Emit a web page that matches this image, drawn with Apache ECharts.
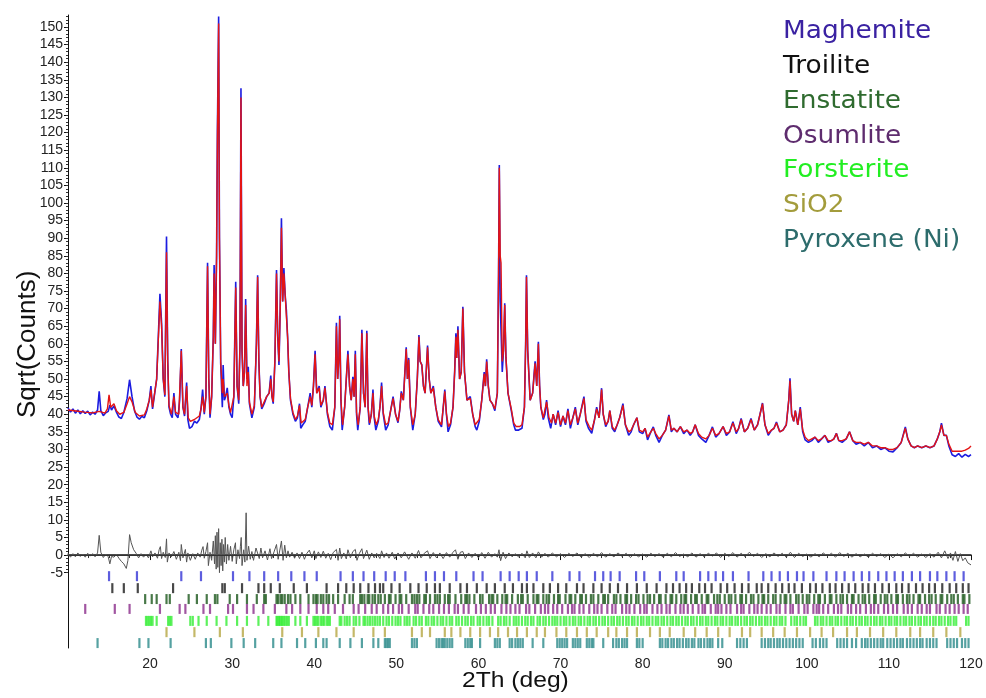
<!DOCTYPE html>
<html>
<head>
<meta charset="utf-8">
<script src="https://cdn.jsdelivr.net/npm/echarts@6/dist/echarts.min.js"></script>
<style>
  html, body { margin: 0; padding: 0; background: #fff; }
  #chart { width: 986px; height: 698px; }
</style>
</head>
<body>
<div id="chart"></div>
<script>
// observed pattern (blue), [2theta, sqrt(counts)]
const observed = [
  [10.0,41.8],[10.3,40.6],[10.6,41.5],[10.9,40.3],[11.2,41.2],[11.5,40.1],[11.8,41.0],[12.1,40.2],[12.4,40.9],[12.7,39.8],
  [13.0,40.6],[13.3,40.0],[13.6,41.2],[13.8,46.5],[14.0,41.0],[14.3,39.6],[14.6,40.4],[14.9,40.8],[15.1,42.6],[15.3,41.2],
  [15.6,42.4],[15.9,40.6],[16.2,39.2],[16.5,38.8],[16.8,40.5],[17.2,44.5],[17.5,49.8],[17.8,45.0],[18.1,41.0],[18.4,39.2],
  [18.7,38.6],[19.0,39.4],[19.3,39.0],[19.6,41.0],[19.9,44.0],[20.1,48.0],[20.3,41.5],[20.5,42.0],[20.8,50.0],[21.0,62.0],
  [21.2,74.2],[21.4,66.0],[21.6,50.0],[21.8,45.0],[22.0,90.5],[22.15,55.0],[22.3,42.0],[22.5,40.0],[22.7,39.0],[22.9,46.0],
  [23.1,40.0],[23.4,39.0],[23.6,44.0],[23.8,58.5],[24.0,42.0],[24.2,39.5],[24.45,49.0],[24.6,38.5],[24.8,36.0],[25.1,36.5],
  [25.4,38.0],[25.7,37.5],[26.0,38.5],[26.2,41.5],[26.4,47.0],[26.6,40.0],[26.8,45.0],[27.0,83.0],[27.15,50.0],[27.3,39.0],
  [27.5,45.0],[27.7,62.0],[27.8,82.4],[27.95,60.0],[28.1,85.0],[28.2,120.5],[28.35,153.0],[28.45,90.0],[28.6,54.5],[28.8,42.0],
  [28.9,54.0],[29.05,44.0],[29.2,45.0],[29.4,47.5],[29.6,42.0],[29.8,40.0],[30.0,39.0],[30.2,45.0],[30.43,77.6],[30.6,48.0],
  [30.8,43.0],[30.95,60.0],[31.07,132.6],[31.2,58.0],[31.35,48.0],[31.5,52.0],[31.64,72.7],[31.8,50.0],[31.96,53.5],[32.1,43.0],
  [32.4,39.0],[32.7,42.0],[32.95,60.0],[33.1,79.5],[33.25,55.0],[33.4,45.0],[33.6,41.5],[33.9,43.0],[34.2,45.0],[34.5,46.0],
  [34.7,51.0],[34.85,45.0],[35.0,43.0],[35.2,55.0],[35.4,81.0],[35.55,62.0],[35.7,54.0],[35.85,70.0],[36.0,95.7],[36.15,72.0],
  [36.3,81.5],[36.45,74.0],[36.6,69.6],[36.75,62.0],[36.9,52.0],[37.1,44.0],[37.4,40.0],[37.7,38.0],[37.95,39.0],[38.2,43.0],
  [38.35,36.0],[38.6,37.0],[38.9,38.0],[39.2,42.0],[39.5,46.0],[39.7,42.0],[39.9,48.0],[40.1,58.0],[40.3,46.0],[40.6,48.0],
  [40.8,42.0],[41.1,44.0],[41.3,48.0],[41.6,40.0],[41.9,36.5],[42.2,35.5],[42.5,42.0],[42.7,66.0],[42.85,50.0],[43.0,56.0],
  [43.1,68.0],[43.25,44.0],[43.4,35.5],[43.7,42.0],[43.9,50.0],[44.1,58.0],[44.3,48.0],[44.5,44.0],[44.7,50.6],[44.85,45.0],
  [45.0,58.0],[45.15,40.0],[45.3,35.5],[45.6,42.0],[45.8,64.0],[46.0,46.0],[46.2,42.0],[46.4,63.7],[46.55,42.0],[46.7,37.0],
  [46.95,40.0],[47.15,47.0],[47.3,39.0],[47.5,35.5],[47.8,38.0],[48.0,42.0],[48.2,49.0],[48.4,40.0],[48.7,35.5],[49.0,37.0],
  [49.3,41.0],[49.6,45.0],[49.9,40.0],[50.2,37.6],[50.4,41.0],[50.6,46.5],[50.85,44.0],[51.2,59.0],[51.35,50.0],[51.5,56.0],
  [51.7,42.0],[52.0,35.5],[52.3,40.0],[52.55,50.0],[52.75,62.5],[52.9,55.0],[53.1,54.0],[53.3,48.0],[53.5,46.0],[53.8,59.5],
  [54.0,50.0],[54.2,46.0],[54.5,48.0],[54.8,42.0],[55.1,38.0],[55.5,36.4],[55.9,47.0],[56.1,40.0],[56.3,35.0],[56.6,37.0],
  [56.9,42.0],[57.1,52.0],[57.25,63.0],[57.35,56.0],[57.5,65.0],[57.7,50.0],[57.9,52.0],[58.1,70.5],[58.3,52.0],[58.6,44.0],
  [59.0,45.0],[59.3,40.0],[59.6,36.5],[59.8,35.5],[60.1,38.0],[60.4,44.0],[60.7,52.0],[60.85,48.0],[61.0,55.6],[61.2,48.0],
  [61.4,44.0],[61.7,43.0],[62.0,41.0],[62.3,46.0],[62.45,80.0],[62.54,110.8],[62.65,72.0],[62.75,64.0],[62.9,52.0],[63.05,58.0],
  [63.2,71.5],[63.35,56.0],[63.6,46.0],[64.0,41.0],[64.3,37.0],[64.5,35.5],[64.9,35.5],[65.3,36.0],[65.6,42.0],[65.75,60.0],
  [65.85,79.5],[66.0,58.0],[66.3,44.0],[66.6,46.0],[66.9,55.0],[67.1,48.0],[67.3,60.6],[67.45,48.0],[67.6,42.0],[67.9,38.5],
  [68.1,40.0],[68.3,44.0],[68.5,39.0],[68.8,36.0],[69.1,40.0],[69.4,37.0],[69.7,41.0],[70.0,36.5],[70.3,39.5],[70.6,37.0],
  [70.9,41.5],[71.2,36.0],[71.5,39.0],[71.8,42.0],[72.1,37.0],[72.4,40.0],[72.85,45.0],[73.1,38.0],[73.4,36.0],[73.8,34.6],
  [74.1,38.0],[74.4,42.0],[74.7,39.0],[75.0,47.4],[75.2,40.0],[75.5,36.5],[75.8,38.0],[76.0,41.0],[76.3,36.0],[76.6,35.0],
  [76.9,37.0],[77.2,39.0],[77.6,43.0],[77.9,37.0],[78.3,34.0],[78.6,35.0],[78.9,37.0],[79.3,39.0],[79.6,35.0],[80.0,34.5],
  [80.3,36.0],[80.6,32.7],[81.0,35.0],[81.3,36.4],[81.6,34.0],[82.0,32.0],[82.4,34.0],[82.8,35.5],[83.2,39.8],[83.5,35.0],
  [83.8,36.0],[84.2,35.0],[84.6,36.5],[85.0,34.5],[85.4,35.5],[85.8,34.0],[86.1,35.0],[86.4,37.0],[86.8,34.0],[87.2,33.0],
  [87.7,32.0],[88.1,34.0],[88.5,36.4],[88.9,33.5],[89.3,34.5],[89.8,36.5],[90.2,34.0],[90.6,35.0],[91.0,37.9],[91.4,34.5],
  [91.7,36.0],[92.0,38.8],[92.4,35.0],[92.8,36.0],[93.2,38.8],[93.6,35.5],[94.0,37.0],[94.3,40.0],[94.6,43.2],[94.9,37.0],
  [95.3,34.0],[95.7,35.5],[96.0,36.0],[96.3,37.8],[96.7,35.0],[97.1,35.5],[97.5,37.0],[97.8,44.0],[97.95,50.2],[98.15,40.0],
  [98.4,38.0],[98.6,41.0],[98.9,37.0],[99.2,42.0],[99.5,35.0],[99.8,32.7],[100.2,32.0],[100.6,32.5],[101.0,33.5],[101.4,32.0],
  [101.8,33.0],[102.2,34.0],[102.6,32.0],[103.0,32.5],[103.3,33.0],[103.6,34.6],[103.9,32.5],[104.3,32.0],[104.8,33.0],[105.2,35.0],
  [105.6,32.5],[106.0,31.5],[106.5,32.0],[107.0,31.0],[107.5,32.0],[108.0,30.5],[108.5,31.0],[109.0,30.0],[109.5,30.5],[110.0,29.5],
  [110.5,29.3],[111.0,30.5],[111.5,32.0],[112.0,36.4],[112.3,33.0],[112.7,31.0],[113.1,30.5],[113.5,31.0],[114.0,30.5],[114.5,31.0],
  [115.0,30.5],[115.5,31.0],[115.9,33.0],[116.2,35.0],[116.4,37.5],[116.7,34.0],[117.0,34.0],[117.3,31.0],[117.7,28.5],[118.1,28.0],
  [118.5,28.8],[118.9,27.8],[119.3,28.6],[119.7,28.0],[120.0,28.5]
]

// calculated pattern (red)
const calculated = [
  [10.0,41.2],[11.0,40.9],[12.0,40.6],[13.0,40.4],[13.8,40.8],[14.5,40.3],[14.8,41.5],[15.0,45.5],[15.2,42.0],[15.6,43.0],
  [15.9,41.0],[16.3,40.0],[16.8,40.5],[17.2,43.0],[17.5,45.0],[17.8,43.5],[18.2,40.5],[18.7,39.5],[19.3,39.8],[19.6,41.5],
  [19.9,44.0],[20.1,47.0],[20.3,42.0],[20.5,42.5],[20.8,50.0],[21.0,61.0],[21.2,72.0],[21.4,65.0],[21.6,50.0],[21.8,45.5],
  [22.0,86.0],[22.15,55.0],[22.3,42.5],[22.6,40.0],[22.9,45.0],[23.1,40.5],[23.5,40.0],[23.8,58.0],[24.0,42.0],[24.2,40.0],
  [24.45,48.0],[24.65,39.0],[24.9,38.0],[25.4,38.5],[26.0,39.5],[26.2,41.5],[26.4,45.0],[26.6,40.5],[26.8,45.0],[27.0,82.0],
  [27.15,50.0],[27.3,40.0],[27.5,45.0],[27.7,62.0],[27.8,80.0],[27.95,60.0],[28.1,85.0],[28.2,118.0],[28.35,151.0],[28.45,90.0],
  [28.6,55.0],[28.8,46.0],[28.9,50.0],[29.05,45.0],[29.2,45.0],[29.4,46.0],[29.6,42.5],[29.8,40.5],[30.0,40.0],[30.2,45.0],
  [30.43,76.0],[30.6,48.0],[30.8,44.0],[30.95,60.0],[31.07,130.0],[31.2,58.0],[31.35,48.0],[31.5,52.0],[31.64,71.0],[31.8,48.0],
  [31.96,52.0],[32.1,43.5],[32.4,40.0],[32.7,42.5],[32.95,60.0],[33.1,79.0],[33.25,55.0],[33.4,45.0],[33.6,42.0],[33.9,43.5],
  [34.2,45.0],[34.5,46.0],[34.7,50.0],[34.85,45.0],[35.0,43.5],[35.2,55.0],[35.4,80.0],[35.55,62.0],[35.7,55.0],[35.85,70.0],
  [36.0,93.0],[36.15,72.0],[36.3,80.0],[36.45,74.0],[36.6,68.0],[36.75,62.0],[36.9,52.0],[37.1,44.5],[37.4,40.5],[37.7,38.5],
  [37.95,39.5],[38.2,42.5],[38.4,37.5],[38.9,38.5],[39.2,42.0],[39.5,45.0],[39.7,42.5],[39.9,48.0],[40.1,57.0],[40.3,46.0],
  [40.6,47.5],[40.8,42.5],[41.1,44.0],[41.3,47.5],[41.6,40.5],[41.9,37.5],[42.2,37.0],[42.5,42.0],[42.7,65.0],[42.85,50.0],
  [43.0,56.0],[43.1,67.0],[43.25,44.0],[43.45,37.0],[43.7,42.0],[43.9,50.0],[44.1,57.0],[44.3,48.0],[44.5,44.0],[44.7,50.0],
  [44.85,45.0],[45.0,57.0],[45.15,40.5],[45.35,37.0],[45.6,42.0],[45.8,63.0],[46.0,46.0],[46.2,42.0],[46.4,63.0],[46.55,42.0],
  [46.75,37.5],[46.95,40.0],[47.15,46.0],[47.3,39.5],[47.55,37.0],[47.8,38.5],[48.0,42.0],[48.2,48.0],[48.4,40.5],[48.7,37.0],
  [49.0,37.5],[49.3,41.0],[49.6,44.5],[49.9,40.0],[50.2,38.0],[50.4,41.0],[50.6,46.0],[50.85,44.0],[51.2,58.5],[51.35,50.0],
  [51.5,55.5],[51.7,42.0],[52.0,37.0],[52.3,40.0],[52.55,50.0],[52.75,62.0],[52.9,55.0],[53.1,54.0],[53.3,48.0],[53.5,46.0],
  [53.8,59.0],[54.0,50.0],[54.2,46.0],[54.5,47.5],[54.8,42.0],[55.1,38.5],[55.5,37.0],[55.9,46.5],[56.1,40.0],[56.35,36.5],
  [56.6,37.5],[56.9,42.0],[57.1,52.0],[57.25,62.0],[57.35,56.0],[57.5,64.0],[57.7,50.0],[57.9,52.0],[58.1,70.0],[58.3,52.0],
  [58.6,44.0],[59.0,44.5],[59.3,40.0],[59.6,37.0],[59.8,36.5],[60.1,38.5],[60.4,44.0],[60.7,51.5],[60.85,48.0],[61.0,55.0],
  [61.2,48.0],[61.4,44.0],[61.7,43.0],[62.0,41.5],[62.3,46.0],[62.45,80.0],[62.54,110.0],[62.65,85.0],[62.75,83.0],[62.9,55.0],
  [63.05,58.0],[63.2,71.0],[63.35,56.0],[63.6,46.0],[64.0,41.5],[64.3,37.5],[64.6,36.5],[65.0,36.5],[65.3,37.0],[65.6,42.0],
  [65.75,60.0],[65.85,79.0],[66.0,58.0],[66.3,44.0],[66.6,46.0],[66.9,54.5],[67.1,48.0],[67.3,60.0],[67.45,48.0],[67.6,42.0],
  [67.9,39.0],[68.3,43.5],[68.6,39.0],[68.9,37.5],[69.1,40.0],[69.4,37.5],[69.7,40.5],[70.0,37.0],[70.3,39.5],[70.6,37.5],
  [70.9,41.0],[71.2,37.0],[71.5,39.0],[71.8,41.5],[72.1,37.5],[72.4,40.0],[72.85,44.5],[73.1,38.5],[73.5,36.5],[73.8,35.5],
  [74.1,38.0],[74.4,41.5],[74.7,39.0],[75.0,47.0],[75.2,40.0],[75.5,37.0],[75.8,38.0],[76.0,41.0],[76.3,36.5],[76.6,35.5],
  [76.9,37.0],[77.2,39.0],[77.6,42.5],[77.9,37.0],[78.3,35.0],[78.6,35.5],[78.9,37.0],[79.3,39.0],[79.6,35.5],[80.0,35.0],
  [80.3,36.0],[80.6,33.5],[81.0,35.0],[81.3,36.0],[81.6,34.5],[82.0,33.0],[82.4,34.0],[82.8,35.5],[83.2,39.5],[83.5,35.5],
  [83.8,36.0],[84.2,35.0],[84.6,36.5],[85.0,35.0],[85.4,35.5],[85.8,34.5],[86.1,35.0],[86.4,37.0],[86.8,34.5],[87.2,33.5],
  [87.7,33.0],[88.1,34.0],[88.5,36.0],[88.9,34.0],[89.3,34.5],[89.8,36.5],[90.2,34.5],[90.6,35.0],[91.0,37.5],[91.4,35.0],
  [91.7,36.0],[92.0,38.5],[92.4,35.0],[92.8,36.0],[93.2,38.5],[93.6,35.5],[94.0,37.0],[94.3,40.0],[94.6,43.0],[94.9,37.0],
  [95.3,34.5],[95.7,35.5],[96.0,36.0],[96.3,37.5],[96.7,35.0],[97.1,35.5],[97.5,37.0],[97.8,44.0],[97.95,49.5],[98.15,40.0],
  [98.4,38.0],[98.6,41.0],[98.9,37.0],[99.2,41.5],[99.5,35.5],[99.8,33.5],[100.2,32.5],[100.6,33.0],[101.0,33.5],[101.4,32.5],
  [101.8,33.0],[102.2,34.0],[102.6,32.5],[103.0,32.5],[103.3,33.0],[103.6,34.5],[103.9,32.5],[104.3,32.5],[104.8,33.0],[105.2,35.0],
  [105.6,32.5],[106.0,32.0],[106.5,32.0],[107.0,31.5],[107.5,32.0],[108.0,31.0],[108.5,31.0],[109.0,30.5],[109.5,30.5],[110.0,30.0],
  [110.5,30.0],[111.0,30.5],[111.5,32.0],[112.0,36.0],[112.3,33.0],[112.7,31.0],[113.1,30.5],[113.5,31.0],[114.0,30.5],[114.5,31.0],
  [115.0,30.5],[115.5,31.0],[115.9,33.0],[116.2,35.0],[116.4,37.0],[116.7,34.0],[117.0,34.0],[117.3,31.5],[117.7,29.5],[118.1,29.5],
  [118.5,29.5],[118.9,29.5],[119.3,29.8],[119.7,30.3],[120.0,31.0]
]

// difference curve (grey), around 0
const difference = [
  [10.0,0.5],[10.3,-0.6],[10.6,0.4],[10.9,-0.5],[11.2,0.6],[11.5,-0.4],[11.8,0.3],[12.1,-0.6],[12.4,0.5],[12.7,-0.3],
  [13.0,0.4],[13.3,-0.5],[13.6,0.6],[13.8,5.6],[14.0,0.8],[14.3,-0.7],[14.6,0.3],[14.9,-0.5],[15.1,-2.5],[15.3,-0.4],
  [15.6,-0.6],[15.9,0.2],[16.2,-0.9],[16.5,-1.8],[16.8,-2.5],[17.1,-3.8],[17.3,-1.5],[17.5,5.8],[17.7,3.5],[18.0,1.5],
  [18.3,0.5],[18.6,-0.8],[18.9,0.4],[19.2,-0.6],[19.5,0.3],[19.8,-0.8],[20.1,1.2],[20.3,-0.5],[20.6,0.6],[20.9,-0.9],
  [21.1,1.5],[21.25,2.4],[21.4,-1.0],[21.6,0.8],[21.85,-0.7],[22.0,4.6],[22.1,-2.0],[22.3,0.6],[22.6,-0.5],[22.9,1.0],
  [23.2,-1.2],[23.5,0.8],[23.7,-1.6],[23.8,3.0],[24.0,-0.8],[24.3,1.6],[24.45,-2.0],[24.6,0.6],[24.9,-1.5],[25.2,0.4],
  [25.5,-1.2],[25.8,0.6],[26.1,-0.6],[26.3,1.4],[26.45,2.4],[26.6,-0.9],[26.8,1.0],[27.0,3.5],[27.1,-3.0],[27.3,0.8],
  [27.5,-1.5],[27.7,4.0],[27.85,-2.5],[27.95,5.5],[28.05,-4.0],[28.15,6.5],[28.25,-3.5],[28.35,7.5],[28.45,-5.0],[28.55,3.5],
  [28.65,-3.0],[28.75,4.5],[28.85,-4.5],[28.95,3.0],[29.05,-2.0],[29.15,5.0],[29.3,-2.5],[29.45,3.0],[29.6,-1.5],[29.8,2.5],
  [30.0,-1.8],[30.2,1.5],[30.4,3.5],[30.5,-2.5],[30.7,1.5],[30.9,-1.0],[31.0,2.5],[31.1,5.0],[31.2,-3.0],[31.4,1.5],
  [31.55,-2.0],[31.7,12.0],[31.8,-1.5],[32.0,2.5],[32.2,-1.2],[32.4,1.0],[32.6,-1.5],[32.9,2.0],[33.1,1.5],[33.3,-1.0],
  [33.5,2.0],[33.7,-0.8],[34.0,1.2],[34.3,-1.4],[34.6,1.8],[34.8,-1.0],[35.1,0.9],[35.4,3.0],[35.6,-1.2],[35.85,2.0],
  [36.0,4.0],[36.2,-1.5],[36.4,2.8],[36.6,-0.8],[36.8,1.2],[37.0,-0.6],[37.3,0.8],[37.6,-0.9],[37.9,0.6],[38.2,-1.0],
  [38.5,0.8],[38.8,-1.2],[39.1,0.5],[39.4,1.4],[39.7,-0.8],[40.0,1.2],[40.2,-1.0],[40.5,0.9],[40.8,-0.7],[41.1,1.1],
  [41.4,-0.9],[41.7,0.5],[42.0,-1.3],[42.3,0.7],[42.7,1.6],[42.9,-1.5],[43.1,2.0],[43.3,-1.0],[43.6,0.6],[43.9,-1.1],
  [44.1,1.5],[44.4,-0.8],[44.7,1.0],[45.0,1.6],[45.2,-1.5],[45.5,0.5],[45.8,1.8],[46.0,-1.0],[46.4,1.4],[46.7,-1.2],
  [47.0,0.6],[47.3,-0.8],[47.6,0.5],[48.0,-1.0],[48.2,1.2],[48.5,-0.7],[48.8,0.6],[49.1,-0.9],[49.5,0.8],[49.8,-1.1],
  [50.2,0.6],[50.6,-0.8],[51.0,0.9],[51.2,1.4],[51.5,-1.2],[51.9,0.6],[52.3,-0.9],[52.7,1.3],[53.0,-0.8],[53.4,0.5],
  [53.8,1.2],[54.1,-1.0],[54.5,0.7],[54.9,-0.8],[55.3,0.6],[55.7,-1.0],[56.1,0.7],[56.5,-0.6],[56.9,0.8],[57.2,1.5],
  [57.5,-1.2],[57.8,0.8],[58.1,1.0],[58.4,-1.0],[58.8,0.6],[59.2,-0.7],[59.6,0.5],[60.0,-0.8],[60.4,0.7],[60.8,-0.9],
  [61.2,0.8],[61.6,-0.6],[62.0,0.4],[62.3,-0.6],[62.5,1.5],[62.7,-1.6],[63.0,0.8],[63.3,-1.0],[63.7,0.6],[64.1,-0.5],
  [64.5,0.4],[64.9,-0.6],[65.3,0.5],[65.7,-0.8],[65.9,1.2],[66.2,-0.7],[66.6,0.6],[67.0,-0.8],[67.3,0.9],[67.7,-0.6],
  [68.1,0.5],[68.5,-0.6],[69.0,0.6],[69.5,-0.5],[70.0,0.4],[70.5,-0.7],[71.0,0.5],[71.5,-0.4],[72.0,0.6],[72.5,-0.6],
  [73.0,0.4],[73.5,-0.7],[74.0,0.5],[74.5,-0.5],[75.0,0.7],[75.5,-0.6],[76.0,0.4],[76.5,-0.5],[77.0,0.6],[77.5,-0.4],
  [78.0,0.5],[78.5,-0.7],[79.0,0.4],[79.5,-0.5],[80.0,0.3],[80.5,-0.6],[81.0,0.5],[81.5,-0.4],[82.0,0.4],[82.5,-0.6],
  [83.0,0.5],[83.5,-0.5],[84.0,0.7],[84.5,-0.4],[85.0,0.3],[85.5,-0.5],[86.0,0.6],[86.5,-0.6],[87.0,0.4],[87.5,-0.5],
  [88.0,0.5],[88.5,-0.3],[89.0,0.6],[89.5,-0.7],[90.0,0.5],[90.5,-0.4],[91.0,0.7],[91.5,-0.6],[92.0,0.5],[92.5,-0.5],
  [93.0,0.8],[93.5,-0.4],[94.0,0.5],[94.5,-0.7],[95.0,0.4],[95.5,-0.5],[96.0,0.6],[96.5,-0.4],[97.0,0.5],[97.5,-0.6],
  [98.0,0.8],[98.5,-0.7],[99.0,0.5],[99.5,-0.4],[100.0,0.3],[100.5,-0.6],[101.0,0.4],[101.5,-0.5],[102.0,0.6],[102.5,-0.3],
  [103.0,0.5],[103.5,-0.6],[104.0,0.7],[104.5,-0.4],[105.0,0.5],[105.5,-0.6],[106.0,0.4],[106.5,-0.5],[107.0,0.3],[107.5,-0.6],
  [108.0,0.5],[108.5,-0.4],[109.0,0.4],[109.5,-0.7],[110.0,0.3],[110.5,-0.8],[111.0,0.4],[111.5,-0.5],[112.0,0.6],[112.5,-0.4],
  [113.0,0.5],[113.5,-0.6],[114.0,0.3],[114.5,-0.7],[115.0,0.4],[115.5,-0.6],[116.0,0.8],[116.4,-0.8],[116.8,1.2],[117.2,-1.0],
  [117.5,0.6],[117.8,-1.5],[118.1,1.0],[118.4,-1.8],[118.7,0.4],[119.0,-1.6],[119.3,-0.8],[119.6,-2.2],[120.0,-2.8]
]

// reflection positions (2theta) for each phase
const maghemiteTicks = [15.0,18.4,23.8,26.2,30.1,32.1,33.9,35.6,37.2,38.8,40.3,43.2,44.7,46.0,47.3,48.7,49.8,51.1,53.6,54.7,
  55.8,57.3,59.4,60.5,62.7,63.8,64.9,65.9,67.1,69.0,71.1,72.3,74.2,75.2,76.1,77.2,79.2,80.2,82.1,84.1,85.0,87.0,88.0,88.9,
  89.8,91.0,92.9,94.7,95.7,96.7,97.7,98.8,99.6,100.8,102.4,103.6,104.6,105.7,106.7,107.6,108.7,109.7,110.7,111.7,112.8,113.8,
  115.0,115.9,117.0,118.0,119.1]
const troiliteTicks = [15.4,16.8,18.5,22.8,28.8,29.1,31.2,33.2,33.9,34.7,35.8,37.5,39.1,41.5,42.9,43.9,44.8,45.6,46.6,47.4,
  48.0,48.4,49.4,50.4,51.7,52.7,53.7,54.7,55.3,56.5,57.8,58.6,59.8,61.0,62.0,63.2,64.2,65.3,65.9,66.7,67.9,68.7,69.7,70.7,
  72.0,72.8,74.0,75.0,76.0,77.0,78.1,79.3,80.5,81.7,82.9,83.7,84.5,85.3,86.0,86.9,87.6,88.4,89.5,90.3,91.2,92.1,92.9,93.9,
  94.5,95.3,96.2,97.0,97.8,98.5,99.4,100.4,101.1,101.9,102.8,103.5,104.3,105.1,105.9,106.8,107.5,108.3,109.2,110.0,110.9,
  111.6,112.4,113.3,114.1,114.9,115.6,116.5,117.4,118.2,119.0,119.7]
const enstatiteTicks = [19.4,20.2,20.8,22.0,22.4,24.7,25.7,26.9,27.9,28.2,29.7,30.6,31.8,33.0,33.9,34.1,35.4,35.6,35.9,36.1,
  36.4,36.8,37.1,37.7,38.3,39.3,39.9,40.2,40.4,40.8,41.1,41.5,41.8,42.3,42.9,43.7,44.3,44.7,45.6,45.8,46.1,46.5,46.7,47.1,
  47.4,47.8,48.1,48.6,49.1,49.3,49.9,50.4,50.6,51.2,51.9,52.2,52.5,52.8,53.4,53.6,54.1,54.7,55.0,55.3,55.9,56.3,56.5,57.2,
  57.9,58.4,58.6,58.9,59.5,60.2,60.5,61.3,61.6,61.8,62.3,62.9,63.3,63.5,64.1,64.8,65.2,65.4,66.0,66.7,67.1,67.3,67.9,68.3,
  68.6,69.2,69.7,69.9,70.6,71.1,71.3,71.8,72.4,72.6,73.1,73.7,74.0,74.6,75.2,75.4,75.8,76.5,76.8,77.3,77.9,78.1,78.6,79.2,
  79.5,80.1,80.6,80.9,81.4,82.0,82.2,82.8,83.4,83.6,84.1,84.7,85.1,85.3,85.9,86.4,86.6,87.2,87.8,88.0,88.7,89.1,89.4,90.0,
  90.5,90.8,91.3,91.9,92.1,92.6,93.2,93.5,94.1,94.6,94.8,95.3,95.9,96.2,96.8,97.3,97.5,98.0,98.7,99.0,99.5,100.0,100.3,
  100.9,101.4,101.6,102.2,102.8,103.0,103.6,104.1,104.4,104.9,105.5,105.7,106.3,106.8,107.1,107.6,108.2,108.4,109.0,109.5,
  109.8,110.3,110.9,111.1,111.7,112.2,112.5,113.0,113.6,113.8,114.4,114.9,115.2,115.7,116.3,116.5,117.1,117.6,117.9,118.4,
  119.0,119.2,119.8]
const osumliteTicks = [12.1,15.7,17.5,21.2,23.6,24.3,26.5,27.3,29.5,30.1,31.8,32.6,33.8,35.2,36.6,37.3,38.3,39.3,40.3,41.1,
  41.7,42.5,43.5,44.8,45.4,46.2,47.0,47.6,48.4,49.0,49.6,50.3,50.7,51.5,52.3,52.6,53.3,54.0,54.5,55.2,55.8,56.4,57.1,57.5,
  58.2,58.8,59.7,60.3,60.9,61.5,62.0,62.8,63.4,63.9,64.5,65.0,65.8,66.2,66.9,67.6,68.1,68.5,69.1,69.6,70.2,70.9,71.4,71.7,
  72.3,72.8,73.5,74.1,74.5,75.0,75.7,76.3,76.7,77.5,78.0,78.4,79.0,79.7,80.2,80.5,81.2,81.8,82.3,82.9,83.3,84.0,84.6,85.0,
  85.5,86.1,86.8,87.3,87.6,88.3,88.9,89.2,89.6,90.2,90.7,91.5,92.0,92.3,93.0,93.6,94.0,94.5,95.1,95.6,96.3,96.7,97.4,98.0,
  98.3,99.0,99.7,100.1,100.8,101.2,101.5,102.0,102.6,103.3,103.8,104.2,105.0,105.4,106.0,106.5,107.2,107.8,108.2,108.7,
  109.4,109.9,110.5,111.0,111.8,112.3,112.8,113.5,114.0,114.6,115.0,115.8,116.2,116.9,117.4,118.0,118.5,119.1,119.6]
const forsteriteTicks = [19.5,19.7,19.9,20.1,20.3,20.8,22.2,22.4,22.6,24.9,25.2,25.9,26.9,28.1,29.3,30.6,31.8,33.2,34.4,35.4,
  35.5,35.7,35.8,36.0,36.1,36.3,36.5,36.7,36.9,37.7,38.3,39.1,39.9,40.1,40.3,40.5,40.8,41.0,41.2,41.5,41.7,41.9,43.1,43.3,
  43.7,44.0,44.3,44.8,45.1,45.5,46.0,46.2,46.5,46.8,47.1,47.4,47.7,48.0,48.4,48.8,49.1,49.5,49.9,50.2,50.5,51.0,51.3,51.6,
  52.1,52.4,52.8,53.1,53.6,53.9,54.3,54.6,55.0,55.4,55.7,56.1,56.5,56.8,57.3,57.6,58.0,58.4,58.7,59.1,59.4,59.9,60.2,60.6,
  61.0,61.3,61.7,62.4,62.7,63.1,63.4,63.8,64.3,64.6,64.9,65.3,65.7,66.0,66.4,66.7,67.2,67.5,67.9,68.2,68.6,69.0,69.3,69.6,
  70.0,70.4,70.7,71.1,71.5,71.8,72.2,72.5,72.9,73.3,73.6,74.0,74.3,74.7,75.1,75.4,75.8,76.2,76.5,76.9,77.2,77.6,78.0,78.3,
  78.7,79.0,79.4,79.8,80.1,80.5,80.8,81.2,81.6,81.9,82.3,82.6,83.0,83.4,83.7,84.1,84.4,84.8,85.2,85.5,85.9,86.2,86.6,87.0,
  87.3,87.7,88.0,88.4,88.8,89.1,89.5,89.8,90.2,90.6,90.9,91.3,91.6,92.0,92.4,92.7,93.1,93.4,93.8,94.2,94.5,94.9,95.2,95.6,
  96.0,96.3,96.7,97.0,97.4,98.1,98.5,98.8,99.2,99.6,99.9,101.0,101.3,101.7,102.0,102.4,102.8,103.1,103.5,103.8,104.2,104.6,
  104.9,105.3,105.6,106.0,106.4,106.7,107.1,107.4,107.8,108.2,108.5,108.9,109.2,109.6,110.0,110.3,110.7,111.0,111.4,111.8,
  112.1,112.5,112.8,113.2,113.6,113.9,114.3,114.6,115.0,115.4,115.7,116.1,116.4,116.8,117.2,117.5,117.9,118.2,119.4,119.7]
const sio2Ticks = [22.0,25.4,28.5,31.3,36.1,38.5,40.5,42.7,44.8,47.2,48.6,51.9,53.1,54.1,55.9,56.7,57.8,59.0,60.2,61.4,62.4,
  63.6,64.7,65.9,67.1,68.1,69.5,70.7,72.0,73.2,74.4,75.8,76.8,78.1,79.3,80.9,82.1,83.3,85.0,86.4,87.8,89.2,90.6,92.1,93.1,
  94.5,95.9,97.3,98.8,100.4,101.8,103.2,104.9,106.1,107.7,109.3,110.9,112.6,113.8,115.4,117.0,118.7]
const pyroxeneTicks = [13.6,18.7,19.8,22.5,26.8,27.4,29.9,31.4,32.8,35.0,36.0,37.9,38.9,40.2,41.1,41.5,43.1,44.4,45.8,47.2,
  47.8,48.6,48.8,49.0,49.2,51.9,52.2,52.5,54.9,55.2,55.5,55.7,55.9,56.2,56.5,56.8,58.4,58.7,59.0,59.2,60.2,62.0,62.3,62.6,
  63.8,64.1,64.5,64.8,65.1,65.4,66.6,67.9,69.6,69.9,70.2,70.5,70.8,71.5,71.8,72.1,72.4,73.2,73.5,73.8,74.0,75.2,76.4,76.8,
  77.1,77.5,77.8,78.1,79.3,79.6,80.0,82.1,82.4,82.8,83.1,83.5,83.8,84.2,84.5,84.9,85.3,85.6,86.0,86.3,86.8,87.1,87.5,87.9,
  88.2,88.5,89.2,89.7,91.5,91.9,92.3,92.7,94.5,94.9,95.3,95.6,96.0,96.4,96.7,97.1,97.5,97.9,98.3,98.7,99.1,99.5,100.7,101.1,
  101.6,102.0,102.4,103.7,104.1,104.5,104.9,105.5,106.0,106.7,107.1,107.4,107.8,108.2,108.6,109.0,109.3,109.8,110.2,110.6,
  111.0,111.4,111.7,112.2,112.6,113.0,113.4,113.8,114.1,114.6,115.0,115.4,115.8,117.1,117.5,117.9,118.3,118.9,119.3,119.7]

const phaseNames = ['Maghemite', 'Troilite', 'Enstatite', 'Osumlite', 'Forsterite', 'SiO2', 'Pyroxene (Ni)']
const phaseTicks = [maghemiteTicks, troiliteTicks, enstatiteTicks, osumliteTicks, forsteriteTicks, sio2Ticks, pyroxeneTicks]

const yTickLabels = [-5,0,5,10,15,20,25,30,35,40,45,50,55,60,65,70,75,80,85,90,95,100,105,110,115,120,125,130,135,140,145,150]
const xTickLabels = [20,30,40,50,60,70,80,90,100,110,120]

// styling
const nameColors = ['#3a22a2', '#111111', '#2f6b2f', '#5e2c6e', '#22ee22', '#a39c3c', '#2d6c6c']
const tickColors = ['#3535d6', '#1a1a1a', '#1a561a', '#8a2a8a', '#33ee33', '#b5a642', '#2a8a8a']
const rowLevels = [-6.0, -9.4, -12.5, -15.3, -18.7, -21.9, -25.0]

const minorY = []
for (let v = -5; v <= 153; v++) minorY.push(v)

const chart = echarts.init(document.getElementById('chart'))

const tickSeries = phaseTicks.map((ticks, i) => ({
  type: 'scatter',
  name: phaseNames[i],
  data: ticks.map(x => [x, rowLevels[i]]),
  symbol: 'rect',
  symbolSize: [2.2, 10],
  itemStyle: {color: tickColors[i]},
  silent: true,
  z: 2
}))

const legendText = phaseNames.map((name, i) => ({
  type: 'text',
  left: 783,
  top: 20 + i * 34.8,
  scaleX: 1.1,
  style: {
    text: name,
    fill: nameColors[i],
    font: '24px "DejaVu Sans", Verdana, sans-serif'
  }
}))

const option = {
  animation: false,
  backgroundColor: '#fff',
  grid: {left: 68, right: 15, top: 15, bottom: 50},
  xAxis: {
    type: 'value',
    min: 10,
    max: 120,
    interval: 10,
    axisLine: {lineStyle: {color: '#111', width: 1.5}},
    axisTick: {show: true, length: 5, lineStyle: {color: '#111'}},
    minorTick: {show: true, splitNumber: 4, length: 3, lineStyle: {color: '#333'}},
    splitLine: {show: false},
    axisLabel: {
      customValues: xTickLabels,
      margin: 9,
      color: '#222',
      fontSize: 14,
      fontFamily: '"Liberation Sans", Arial, sans-serif'
    }
  },
  yAxis: [{
    type: 'value',
    min: -26.4,
    max: 153.4,
    position: 'left',
    axisLine: {show: true, lineStyle: {color: '#111', width: 1}},
    axisTick: {show: true, customValues: yTickLabels, length: 4, lineStyle: {color: '#111'}},
    splitLine: {show: false},
    axisLabel: {
      customValues: yTickLabels,
      margin: 5,
      color: '#222',
      fontSize: 14,
      fontFamily: '"Liberation Sans Narrow", "Liberation Sans", Arial, sans-serif'
    }
  }, {
    type: 'value',
    min: -26.4,
    max: 153.4,
    position: 'left',
    offset: 0,
    axisLine: {show: false},
    axisTick: {show: true, customValues: minorY, length: 2, lineStyle: {color: '#333'}},
    axisLabel: {show: false},
    splitLine: {show: false}
  }],
  graphic: [
    ...legendText,
    {
      type: 'text',
      left: 462,
      top: 670,
      scaleX: 1.12,
      style: {text: '2Th (deg)', fill: '#111', font: '22px "Liberation Sans", Arial, sans-serif'}
    },
    {
      type: 'text',
      x: 15,
      y: 418,
      rotation: Math.PI / 2,
      style: {text: 'Sqrt(Counts)', fill: '#111', font: '26px "Liberation Sans", Arial, sans-serif'}
    }
  ],
  series: [
    ...tickSeries,
    {
      type: 'line',
      name: 'difference',
      data: difference,
      showSymbol: false,
      sampling: 'none',
      lineStyle: {color: '#555', width: 1},
      silent: true,
      z: 3,
      markLine: {
        silent: true,
        symbol: 'none',
        label: {show: false},
        lineStyle: {color: '#333', width: 1.2, type: 'solid'},
        data: [{yAxis: 0}]
      }
    },
    {
      type: 'line',
      name: 'observed',
      data: observed,
      showSymbol: false,
      sampling: 'none',
      lineStyle: {color: '#1c1ce0', width: 1.6},
      silent: true,
      z: 4
    },
    {
      type: 'line',
      name: 'calculated',
      data: calculated,
      showSymbol: false,
      sampling: 'none',
      lineStyle: {color: '#e41414', width: 1.4},
      silent: true,
      z: 5
    }
  ]
}

try {
  chart.setOption(option)
} catch (e) {
  console.log('error setting options')
  console.log(e)
}
</script>
</body>
</html>
